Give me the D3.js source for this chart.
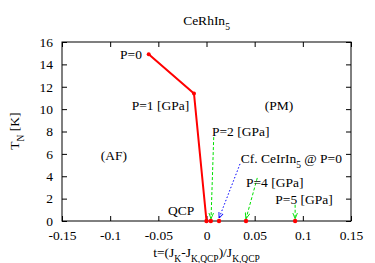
<!DOCTYPE html>
<html>
<head>
<meta charset="utf-8">
<script src="https://cdn.jsdelivr.net/npm/d3@7"></script>
<style>
  body { margin: 0; background: #fff; }
</style>
</head>
<body>
<div id="chart"></div>
<script>
// phase line (red)
var lineT = [-0.06, -0.013, 0]
var lineTN = [14.9, 11.4, 0]

// red points on the axis
var dotT = [0, 0.0045, 0.013, 0.041, 0.092]

// arrows from labels to points
var arrowFrom = [[0.0075, 7.5], [0.0348, 5.1], [0.0527, 3.85], [0.092, 1.45]]
var arrowTo = [[0.0047, 0.2], [0.013, 0.25], [0.041, 0.2], [0.092, 0.2]]
var arrowKind = ['green', 'blue', 'green', 'green']

// labels (|...| marks a subscript)
var labelText = ['P=0', 'P=1 [GPa]', '(PM)', 'P=2 [GPa]', '(AF)', 'Cf. CeIrIn|5| @ P=0', 'P=4 [GPa]', 'P=5 [GPa]', 'QCP']
var labelT = [-0.067, -0.018, 0.0605, 0.0057, -0.1097, 0.0355, 0.041, 0.0714, -0.04]
var labelTN = [14.9, 10.35, 10.35, 8.0, 5.9, 5.63, 3.5, 1.97, 0.92]
var labelAnchor = ['end', 'end', 'start', 'start', 'start', 'start', 'start', 'start', 'start']

var xTicks = [-0.15, -0.1, -0.05, 0, 0.05, 0.1, 0.15]
var yTicks = [0, 2, 4, 6, 8, 10, 12, 14, 16]

var FONT = 'Liberation Serif'
var FS = '13.5px', SUB = '9.5px'

var W = 375, H = 263
var margin = { top: 42, right: 24, bottom: 42, left: 62 }
var width = W - margin.left - margin.right
var height = H - margin.top - margin.bottom

var x = d3.scaleLinear().domain([-0.15, 0.15]).range([0, width])
var y = d3.scaleLinear().domain([0, 16]).range([height, 0])

var svg = d3.select('#chart').append('svg')
    .attr('width', W).attr('height', H)

// arrow markers
var defs = svg.append('defs')
var colors = { green: '#00e000', blue: '#0000ff' }
Object.keys(colors).forEach(function (k) {
    defs.append('marker')
        .attr('id', 'head-' + k)
        .attr('viewBox', '0 0 10 10')
        .attr('refX', 10).attr('refY', 5)
        .attr('markerWidth', 6).attr('markerHeight', 6)
        .attr('markerUnits', 'userSpaceOnUse')
        .attr('orient', 'auto')
        .append('path')
        .attr('d', 'M0,1 L10,5 L0,9')
        .style('fill', 'none')
        .style('stroke', colors[k])
        .style('stroke-width', 1.5)
})

var g = svg.append('g')
    .attr('transform', 'translate(' + margin.left + ',' + margin.top + ')')

// axes with inward ticks, mirrored
var xAxis = d3.axisBottom(x).tickValues(xTicks).tickSize(-5).tickPadding(9)
    .tickFormat(function (d) { return d === 0 ? '0' : String(+d.toFixed(2)) })
var yAxis = d3.axisLeft(y).tickValues(yTicks).tickSize(-5).tickPadding(9)

g.append('g').attr('transform', 'translate(0,' + height + ')').call(xAxis)
g.append('g').call(yAxis)
g.append('g').call(d3.axisTop(x).tickValues(xTicks).tickSize(-5).tickFormat(''))
g.append('g').attr('transform', 'translate(' + width + ',0)')
    .call(d3.axisRight(y).tickValues(yTicks).tickSize(-5).tickFormat(''))

g.selectAll('.domain').remove()
g.selectAll('.tick line').style('stroke', '#000')

g.append('rect')
    .attr('width', width).attr('height', height)
    .style('fill', 'none').style('stroke', '#000').style('stroke-width', 1)

// red line
var line = d3.line()
    .x(function (d, i) { return x(lineT[i]) })
    .y(function (d, i) { return y(lineTN[i]) })
g.append('path')
    .datum(lineT)
    .attr('d', line)
    .style('fill', 'none')
    .style('stroke', '#ff0000')
    .style('stroke-width', 2)

// small markers at line vertices
g.selectAll('.vtx')
    .data(lineT.slice(0, 2))
    .enter().append('circle')
    .attr('cx', function (d) { return x(d) })
    .attr('cy', function (d, i) { return y(lineTN[i]) })
    .attr('r', 2)
    .style('fill', '#ff0000')

// arrows
g.selectAll('.arr')
    .data(arrowFrom)
    .enter().append('line')
    .attr('x1', function (d) { return x(d[0]) })
    .attr('y1', function (d) { return y(d[1]) })
    .attr('x2', function (d, i) { return x(arrowTo[i][0]) })
    .attr('y2', function (d, i) { return y(arrowTo[i][1]) })
    .style('stroke', function (d, i) { return colors[arrowKind[i]] })
    .style('stroke-width', 1)
    .style('stroke-dasharray', function (d, i) { return arrowKind[i] === 'blue' ? '1.5,2' : '3,2' })
    .attr('marker-end', function (d, i) { return 'url(#head-' + arrowKind[i] + ')' })

// red dots on the axis
g.selectAll('.dot')
    .data(dotT)
    .enter().append('circle')
    .attr('cx', function (d) { return x(d) })
    .attr('cy', y(0))
    .attr('r', 2.2)
    .style('fill', '#ff0000')

// labels
labelText.forEach(function (s, i) {
    var t = g.append('text')
        .attr('x', x(labelT[i]))
        .attr('y', y(labelTN[i]))
        .attr('dy', '0.35em')
        .style('text-anchor', labelAnchor[i])
    s.split('|').forEach(function (part, j) {
        if (!part) return
        var ts = t.append('tspan').text(part)
        if (j % 2 === 1) ts.attr('baseline-shift', 'sub').style('font-size', SUB)
    })
})

// title
var title = svg.append('text')
    .attr('x', margin.left + width / 2)
    .attr('y', 25)
    .style('text-anchor', 'middle')
title.append('tspan').text('CeRhIn')
title.append('tspan').text('5').attr('baseline-shift', 'sub').style('font-size', SUB)

// y label
var yl = svg.append('text')
    .attr('transform', 'translate(19,131) rotate(-90)')
    .style('text-anchor', 'middle')
yl.append('tspan').text('T')
yl.append('tspan').text('N').attr('baseline-shift', 'sub').style('font-size', SUB)
yl.append('tspan').text(' [K]')

// x label
var xl = svg.append('text')
    .attr('x', margin.left + width / 2)
    .attr('y', 257)
    .style('text-anchor', 'middle')
xl.append('tspan').text('t=(J')
xl.append('tspan').text('K').attr('baseline-shift', 'sub').style('font-size', SUB)
xl.append('tspan').text('-J')
xl.append('tspan').text('K,QCP').attr('baseline-shift', 'sub').style('font-size', SUB)
xl.append('tspan').text(')/J')
xl.append('tspan').text('K,QCP').attr('baseline-shift', 'sub').style('font-size', SUB)

// serif everywhere, set on each text directly
svg.selectAll('g').attr('font-family', null)
svg.selectAll('text')
    .style('font-family', FONT)
    .style('fill', '#000')
svg.selectAll('text').filter(function () { return !this.style.fontSize })
    .style('font-size', FS)
</script>
</body>
</html>
